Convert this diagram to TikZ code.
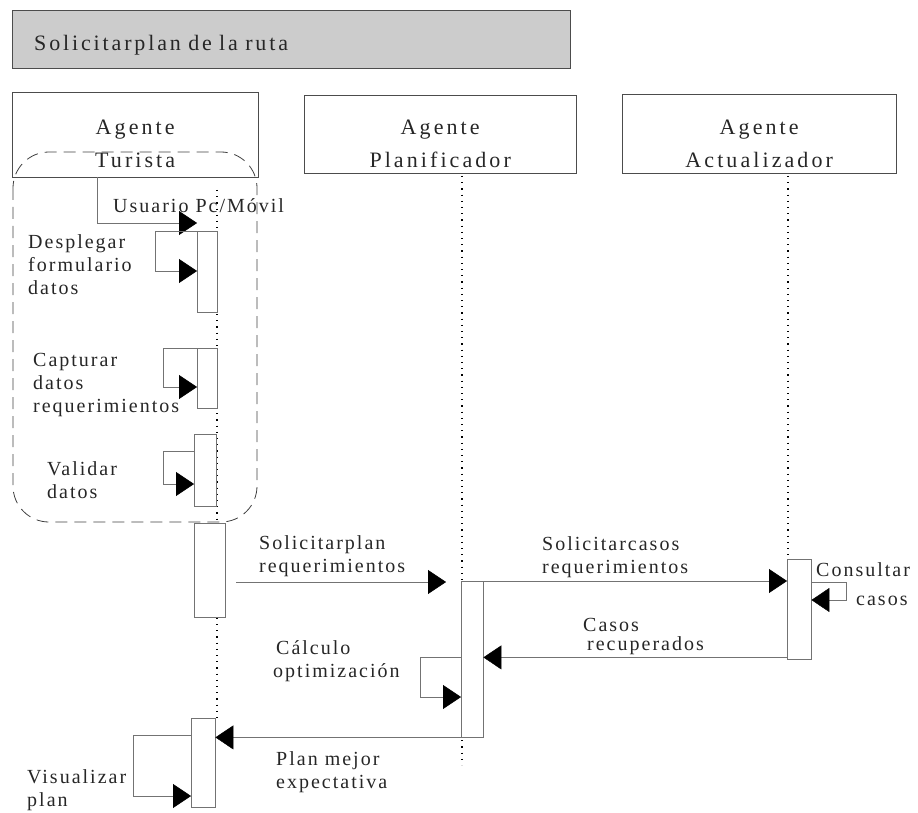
\documentclass[tikz,border=0pt]{standalone}
\usepackage{fontspec}
\setmainfont{Liberation Serif}
\newfontfamily\etiq{Liberation Serif}[LetterSpace=10]
\newfontfamily\tituloFont{Liberation Serif}[LetterSpace=13]
\newfontfamily\agFont{Liberation Serif}[LetterSpace=14]
\usetikzlibrary{arrows.meta}
\colorlet{gris}{black!55}
\colorlet{grisbox}{black!20}

\begin{document}
\begin{tikzpicture}[x=1pt,y=-1pt,
    caja/.style={draw=black!70,inner sep=0pt,anchor=north west},
    act/.style={draw=gris,fill=white,inner sep=0pt,anchor=north west},
    msg/.style={gris,-{Triangle[length=18pt,width=24pt,color=black,fill=black]}},
    vida/.style={line width=1.2pt,dash pattern=on 1.2pt off 5pt},
    txt/.style={inner sep=0pt,anchor=base west,align=left,text=black!85,font=\etiq\fontsize{20}{23}\selectfont},
    nombre/.style={inner sep=0pt,align=center,text=black!85,font=\agFont\fontsize{22}{33}\selectfont}]
\useasboundingbox (0,0) rectangle (918,813);

\node[caja,fill=grisbox,minimum width=558pt,minimum height=58pt,text width=514pt,
      inner xsep=22pt,align=left,text=black!85,text height=24pt,text depth=2pt,
      font=\tituloFont\fontsize{22}{26}\selectfont]
      (titulo) at (12,10) {Solicitarplan de la ruta};

\node[caja,minimum width=246pt,minimum height=85pt] (turista) at (12,92) {};
\node[caja,minimum width=272pt,minimum height=78pt] (planif) at (304,95) {};
\node[caja,minimum width=274pt,minimum height=79pt] (actual) at (622,94) {};
\node[nombre] (turistaTxt) at ([yshift=-9pt]turista.center) {Agente\\Turista};
\node[nombre] (planifTxt) at ([yshift=-10pt]planif.center) {Agente\\Planificador};
\node[nombre] (actualTxt) at ([yshift=-10pt]actual.center) {Agente\\Actualizador};

\coordinate (vT1) at (217,190);
\coordinate (vT2) at (217,718);
\coordinate (vP1) at (462,176);
\coordinate (vP2) at (462,765);
\coordinate (vA1) at (788,176);
\coordinate (vA2) at (788,558);
\draw[vida] (vT1) -- (vT2);
\draw[vida] (vP1) -- (vP2);
\draw[vida] (vA1) -- (vA2);

\draw[black!75,line width=0.8pt,dash pattern=on 12pt off 7pt,rounded corners=36pt] (13,152) rectangle (257,522);

\node[act,minimum width=20pt,minimum height=81pt] (t1) at (197,231) {};
\node[act,minimum width=20pt,minimum height=60pt] (t2) at (197,348) {};
\node[act,minimum width=22pt,minimum height=72pt] (t3) at (194,434) {};
\node[act,minimum width=31pt,minimum height=94pt] (t4) at (194,523) {};
\node[act,minimum width=24pt,minimum height=89pt] (t5) at (191,718) {};
\node[act,minimum width=22pt,minimum height=156pt] (p1) at (461,581) {};
\node[act,minimum width=24pt,minimum height=100pt] (a1) at (787,559) {};

\coordinate (usr) at (97,177);
\draw[msg] (usr) |- ([yshift=8pt]t1.north west);
\node[txt] (usrTxt) at (113,213) {Usuario Pc/Móvil};

\draw[msg] (t1.north west) -- ++(-42,0) |- ([yshift=-40pt]t1.north west);
\node[txt] (despTxt) at (28,294) {Desplegar\\formulario\\datos};

\draw[msg] (t2.north west) -- ++(-34,0) |- ([yshift=-39pt]t2.north west);
\node[txt] (captTxt) at (33,412) {Capturar\\datos\\requerimientos};

\draw[msg] ([yshift=-17pt]t3.north west) -- ++(-31,0) |- ([yshift=-50pt]t3.north west);
\node[txt] (validTxt) at (47,498) {Validar\\datos};

\coordinate (sp1) at (236,582);
\coordinate (sp2) at (446,582);
\draw[msg] (sp1) -- (sp2);
\node[txt] (solPlanTxt) at (259,572) {Solicitarplan\\requerimientos};

\draw[msg] (p1.north west) -- (p1.north west -| a1.west);
\node[txt] (solCasosTxt) at (542,573) {Solicitarcasos\\requerimientos};

\draw[msg] ([yshift=-23pt]a1.north east) -- ++(35,0) |- ([yshift=-41pt]a1.north east);
\node[txt] (consTxt) at (816,576) {Consultar};
\node[txt] (casosTxt) at (856,605) {casos};

\draw[msg] ([yshift=2pt]a1.south west) -- ([yshift=2pt]a1.south west -| p1.east);
\node[txt,font=\etiq\fontsize{20}{19}\selectfont] (recTxt) at (583,650) {Casos\\\hspace*{4pt}recuperados};

\draw[msg] ([yshift=-76pt]p1.north west) -- ++(-41,0) |- ([yshift=-116pt]p1.north west);
\node[txt] (calcTxt) at (273,677) {\hspace*{3pt}Cálculo\\optimización};

\draw[msg] (p1.south west) -- (p1.south west -| t5.east);
\node[txt] (planTxt) at (276,788) {Plan mejor\\expectativa};

\draw[msg] ([yshift=-17pt]t5.north west) -- ++(-58,0) |- ([yshift=-78pt]t5.north west);
\node[txt] (visTxt) at (27,806) {Visualizar\\plan};
\end{tikzpicture}
\end{document}
